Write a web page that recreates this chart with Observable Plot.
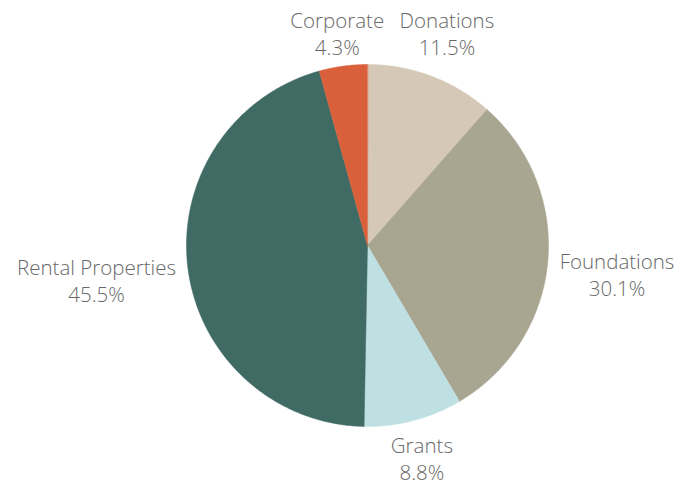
<!DOCTYPE html>
<html>
<head>
<meta charset="utf-8">
<script src="https://cdn.jsdelivr.net/npm/d3@7"></script>
<script src="https://cdn.jsdelivr.net/npm/@observablehq/plot@0.6"></script>
<style>
  html, body { margin: 0; padding: 0; background: #fff; }
  #chart { width: 690px; height: 485px; }
</style>
</head>
<body>
<div id="chart"></div>
<script>
const categories = ["Donations", "Foundations", "Grants", "Rental Properties", "Corporate"];
const values = [11.5, 30.1, 8.8, 45.5, 4.3];
const labels = ["11.5%", "30.1%", "8.8%", "45.5%", "4.3%"];
const colors = ["#d5c8b6", "#a8a590", "#bfe0e3", "#3f6b64", "#d9603a"];

const W = 690, H = 485, cx = 367, cy = 245, R = 181, gap = 11;
const fontSize = 20.5, fontWeight = 300, fontFamily = "Open Sans";
const lineH = 27;

const arcs = d3.pie().sort(null).value(d => d)(values);

const slicePts = [];
arcs.forEach((a, i) => {
  slicePts.push({cat: categories[i], x: 0, y: 0});
  const n = Math.max(4, Math.ceil((a.endAngle - a.startAngle) / 0.01));
  for (let j = 0; j <= n; j++) {
    const t = a.startAngle + (a.endAngle - a.startAngle) * j / n;
    slicePts.push({cat: categories[i], x: R * Math.sin(t), y: -R * Math.cos(t)});
  }
});

const ctx = document.createElement("canvas").getContext("2d");
ctx.font = `${fontWeight} ${fontSize}px "${fontFamily}"`;

const labelData = arcs.map((a, i) => {
  const m = (a.startAngle + a.endAngle) / 2;
  const s = Math.sin(m), c = Math.cos(m);
  const w = Math.max(ctx.measureText(categories[i]).width, ctx.measureText(labels[i]).width);
  let x = (R + gap) * s, y = -(R + gap) * c;
  if (Math.abs(s) > 0.75) { x += Math.sign(s) * (w / 2 + 1); y += 10; }
  else { x += 0.35 * s * w; y = -Math.sign(c) * (R + gap + lineH * 0.75); }
  return {text: categories[i] + "\n" + labels[i], x, y};
});

const plot = Plot.plot({
  width: W, height: H,
  margin: 0,
  x: {domain: [-cx, W - cx], range: [0, W], axis: null},
  y: {domain: [-cy, H - cy], range: [0, H], axis: null},
  color: {domain: categories, range: colors},
  marks: [
    Plot.line(slicePts, {x: "x", y: "y", z: "cat", fill: "cat", stroke: "cat", strokeWidth: 0.5, curve: "linear-closed"}),
    Plot.text(labelData, {x: "x", y: "y", text: "text", textAnchor: "middle", lineAnchor: "middle",
      fontFamily, fontSize, fontWeight, fill: "#686868", lineHeight: lineH / fontSize})
  ]
});
document.getElementById("chart").appendChild(plot);
</script>
</body>
</html>
